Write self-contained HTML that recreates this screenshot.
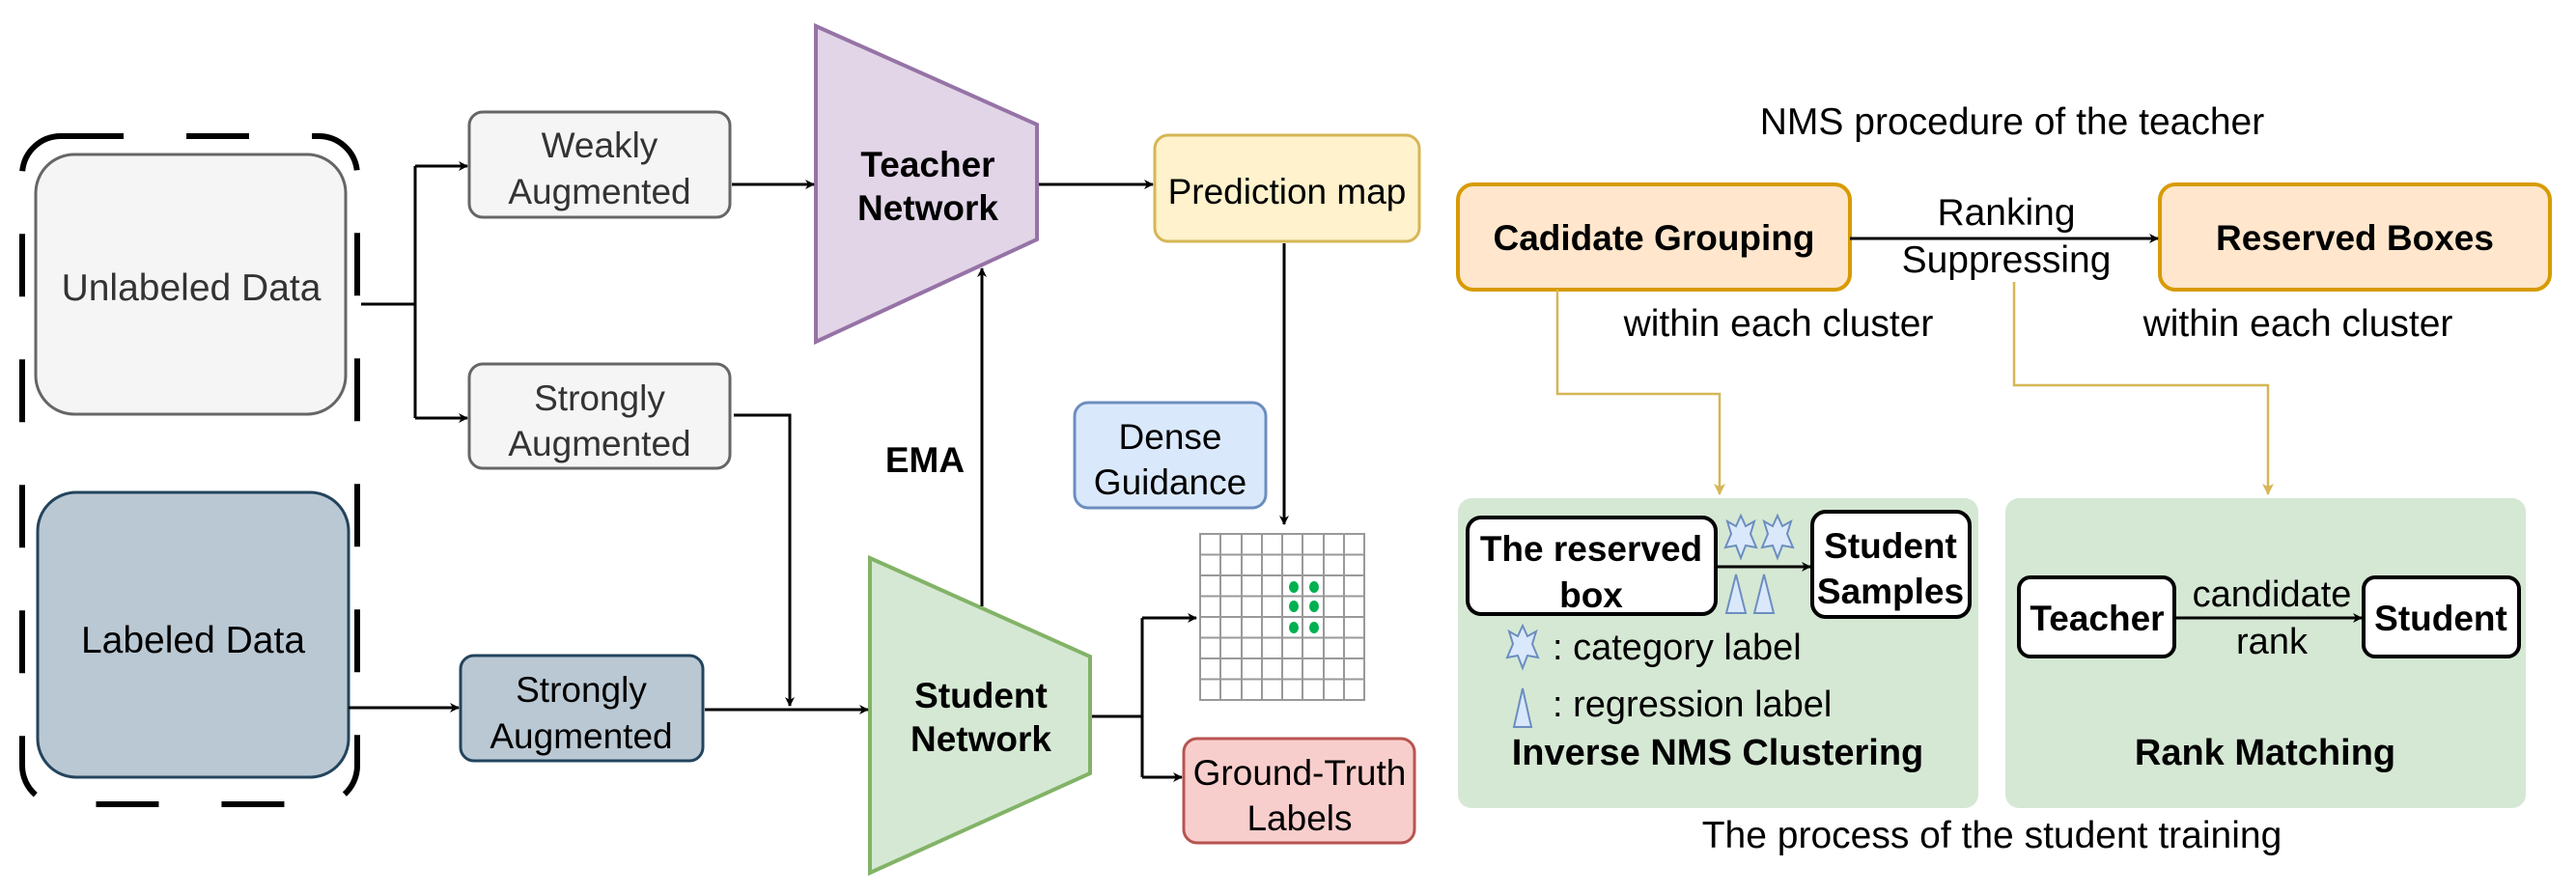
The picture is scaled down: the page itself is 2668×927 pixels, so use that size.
<!DOCTYPE html>
<html><head><meta charset="utf-8"><style>html,body{margin:0;padding:0;background:#fff}svg{display:block}text{font-family:"Liberation Sans",sans-serif}</style></head><body>
<svg width="2668" height="927" viewBox="0 0 2668 927" xmlns="http://www.w3.org/2000/svg">
<defs>
<marker id="a" markerWidth="10" markerHeight="10" refX="9" refY="5" orient="auto" markerUnits="userSpaceOnUse"><path d="M0,0 L10,5 L0,10 L3,5 Z" fill="#000"/></marker>
<marker id="g" markerWidth="12" markerHeight="12" refX="11" refY="6" orient="auto" markerUnits="userSpaceOnUse"><path d="M0,0 L12,6 L0,12 L3,6 Z" fill="#d6b656"/></marker>
</defs>
<rect x="23" y="141" width="347" height="692" rx="40" fill="none" stroke="#000" stroke-width="6" stroke-dasharray="65,65"/>
<rect x="37" y="160" width="321" height="269" rx="40" fill="#f5f5f5" stroke="#666" stroke-width="3"/>
<text x="198" y="311" font-size="39" text-anchor="middle" fill="#333">Unlabeled Data</text>
<rect x="39" y="510" width="322" height="295" rx="40" fill="#bac8d3" stroke="#23445d" stroke-width="3"/>
<text x="200" y="676" font-size="39" text-anchor="middle" fill="#000">Labeled Data</text>
<rect x="486" y="116" width="270" height="109" rx="14" fill="#f5f5f5" stroke="#666" stroke-width="3"/>
<text x="621" y="163" font-size="37" text-anchor="middle" fill="#333">Weakly</text>
<text x="621" y="211" font-size="37" text-anchor="middle" fill="#333">Augmented</text>
<rect x="486" y="377" width="270" height="108" rx="14" fill="#f5f5f5" stroke="#666" stroke-width="3"/>
<text x="621" y="425" font-size="37" text-anchor="middle" fill="#333">Strongly</text>
<text x="621" y="472" font-size="37" text-anchor="middle" fill="#333">Augmented</text>
<rect x="477" y="679" width="251" height="109" rx="14" fill="#bac8d3" stroke="#23445d" stroke-width="3"/>
<text x="602" y="727" font-size="37" text-anchor="middle" fill="#000">Strongly</text>
<text x="602" y="775" font-size="37" text-anchor="middle" fill="#000">Augmented</text>
<path d="M845,27 L1074,129 L1074,248 L845,354 Z" fill="#e1d5e7" stroke="#9673a6" stroke-width="4"/>
<text x="961" y="183" font-size="37" font-weight="bold" text-anchor="middle">Teacher</text>
<text x="961" y="228" font-size="37" font-weight="bold" text-anchor="middle">Network</text>
<path d="M901,578 L1129,680 L1129,801 L901,904 Z" fill="#d5e8d4" stroke="#82b366" stroke-width="4"/>
<text x="1016" y="733" font-size="37" font-weight="bold" text-anchor="middle">Student</text>
<text x="1016" y="778" font-size="37" font-weight="bold" text-anchor="middle">Network</text>
<rect x="1196" y="140" width="274" height="110" rx="14" fill="#fff2cc" stroke="#d6b656" stroke-width="3"/>
<text x="1333" y="211" font-size="37" text-anchor="middle">Prediction map</text>
<rect x="1113" y="417" width="198" height="109" rx="14" fill="#dae8fc" stroke="#6c8ebf" stroke-width="3"/>
<text x="1212" y="465" font-size="37" text-anchor="middle">Dense</text>
<text x="1212" y="512" font-size="37" text-anchor="middle">Guidance</text>
<rect x="1226" y="765" width="239" height="108" rx="14" fill="#f8cecc" stroke="#b85450" stroke-width="3"/>
<text x="1346" y="813" font-size="37" text-anchor="middle">Ground-Truth</text>
<text x="1346" y="860" font-size="37" text-anchor="middle">Labels</text>
<g stroke="#999" stroke-width="2">
<rect x="1243" y="553" width="170" height="172" fill="#fff"/>
<path d="M1264,553V725M1286,553V725M1307,553V725M1328,553V725M1349,553V725M1371,553V725M1392,553V725M1243,574.5H1413M1243,596H1413M1243,617.5H1413M1243,639H1413M1243,660.5H1413M1243,682H1413M1243,703.5H1413"/>
</g>
<g fill="#00b050"><ellipse cx="1340" cy="608" rx="5" ry="6"/><ellipse cx="1361" cy="608" rx="5" ry="6"/><ellipse cx="1340" cy="628" rx="5" ry="6"/><ellipse cx="1361" cy="628" rx="5" ry="6"/><ellipse cx="1340" cy="650" rx="5" ry="6"/><ellipse cx="1361" cy="650" rx="5" ry="6"/></g>
<g stroke="#000" stroke-width="3" fill="none">
<path d="M374,315 H430 M430,172 V433"/>
<path d="M430,172 H484" marker-end="url(#a)"/>
<path d="M430,433 H484" marker-end="url(#a)"/>
<path d="M758,191 H843" marker-end="url(#a)"/>
<path d="M1076,191 H1194" marker-end="url(#a)"/>
<path d="M760,430 H818 V731" marker-end="url(#a)"/>
<path d="M361,733 H475" marker-end="url(#a)"/>
<path d="M730,735 H899" marker-end="url(#a)"/>
<path d="M1017,628 V278" marker-end="url(#a)"/>
<path d="M1330,252 V543" marker-end="url(#a)"/>
<path d="M1131,742 H1183 M1183,640 V805"/>
<path d="M1183,640 H1239" marker-end="url(#a)"/>
<path d="M1183,805 H1224" marker-end="url(#a)"/>
</g>
<text x="958" y="489" font-size="37" font-weight="bold" text-anchor="middle">EMA</text>

<text x="2084" y="139" font-size="39" text-anchor="middle">NMS procedure of the teacher</text>
<rect x="1510" y="191" width="406" height="109" rx="16" fill="#ffe6cc" stroke="#d79b00" stroke-width="4"/>
<text x="1713" y="259" font-size="37" font-weight="bold" text-anchor="middle">Cadidate Grouping</text>
<rect x="2237" y="191" width="404" height="109" rx="16" fill="#ffe6cc" stroke="#d79b00" stroke-width="4"/>
<text x="2439" y="259" font-size="37" font-weight="bold" text-anchor="middle">Reserved Boxes</text>
<path d="M1916,247 H2235" stroke="#000" stroke-width="3" marker-end="url(#a)"/>
<text x="2078" y="233" font-size="39" text-anchor="middle">Ranking</text>
<text x="2078" y="282" font-size="39" text-anchor="middle">Suppressing</text>
<text x="1842" y="348" font-size="39" text-anchor="middle">within each cluster</text>
<text x="2380" y="348" font-size="39" text-anchor="middle">within each cluster</text>
<path d="M1613,300 V408 H1781 V512" stroke="#d6b656" stroke-width="2.5" fill="none" marker-end="url(#g)"/>
<path d="M2086,292 V399 H2349 V512" stroke="#d6b656" stroke-width="2.5" fill="none" marker-end="url(#g)"/>
<rect x="1510" y="516" width="539" height="321" rx="14" fill="#d5e8d4"/>
<rect x="2077" y="516" width="539" height="321" rx="14" fill="#d5e8d4"/>
<rect x="1520" y="536" width="257" height="100" rx="14" fill="#fff" stroke="#000" stroke-width="4"/>
<text x="1648" y="581" font-size="37" font-weight="bold" text-anchor="middle">The reserved</text>
<text x="1648" y="629" font-size="37" font-weight="bold" text-anchor="middle">box</text>
<rect x="1877" y="530" width="163" height="109" rx="14" fill="#fff" stroke="#000" stroke-width="4"/>
<text x="1958" y="578" font-size="37" font-weight="bold" text-anchor="middle">Student</text>
<text x="1958" y="625" font-size="37" font-weight="bold" text-anchor="middle">Samples</text>
<path d="M1777,587 H1875" stroke="#000" stroke-width="3" marker-end="url(#a)"/>
<g fill="#dae8fc" stroke="#6c8ebf" stroke-width="2">
<path d="M0,-22 L5,-11 L14,-16 L10,-3 L16,11 L5,9 L0,22 L-5,9 L-16,11 L-10,-3 L-14,-16 L-5,-11 Z" transform="translate(1803,556)"/>
<path d="M0,-22 L5,-11 L14,-16 L10,-3 L16,11 L5,9 L0,22 L-5,9 L-16,11 L-10,-3 L-14,-16 L-5,-11 Z" transform="translate(1841,556)"/>
<path d="M0,-22 L5,-11 L14,-16 L10,-3 L16,11 L5,9 L0,22 L-5,9 L-16,11 L-10,-3 L-14,-16 L-5,-11 Z" transform="translate(1577,670)"/>
<path d="M1798,595 L1788,635 L1808,635 Z"/>
<path d="M1827,595 L1817,635 L1837,635 Z"/>
<path d="M1577,713 L1568,753 L1586,753 Z"/>
</g>
<text x="1608" y="683" font-size="38">: category label</text>
<text x="1608" y="742" font-size="38">: regression label</text>
<text x="1779" y="792" font-size="38" font-weight="bold" text-anchor="middle">Inverse NMS Clustering</text>
<rect x="2091" y="598" width="161" height="82" rx="12" fill="#fff" stroke="#000" stroke-width="4"/>
<text x="2172" y="653" font-size="37" font-weight="bold" text-anchor="middle">Teacher</text>
<rect x="2448" y="598" width="161" height="82" rx="12" fill="#fff" stroke="#000" stroke-width="4"/>
<text x="2528" y="653" font-size="37" font-weight="bold" text-anchor="middle">Student</text>
<path d="M2252,640 H2446" stroke="#000" stroke-width="3" marker-end="url(#a)"/>
<text x="2353" y="628" font-size="38" text-anchor="middle">candidate</text>
<text x="2353" y="677" font-size="38" text-anchor="middle">rank</text>
<text x="2346" y="792" font-size="38" font-weight="bold" text-anchor="middle">Rank Matching</text>
<text x="2063" y="878" font-size="39" text-anchor="middle">The process of the student training</text>
</svg>
</body></html>
